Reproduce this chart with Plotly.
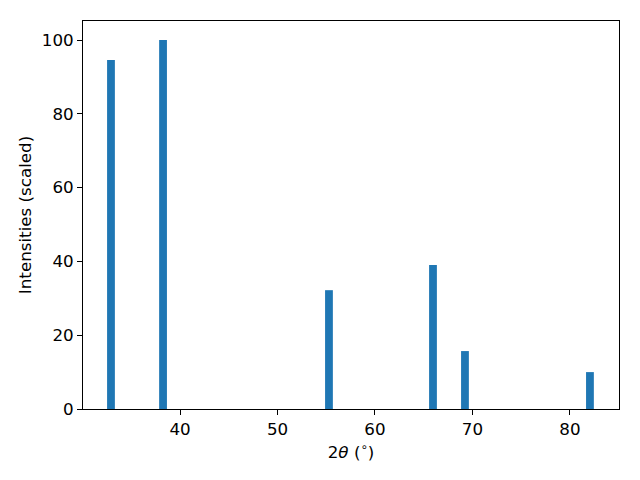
import plotly.graph_objects as go

two_theta = [32.92, 38.26, 55.28, 65.95, 69.23, 82.05]
intensities = [94.6, 100.0, 32.2, 39.0, 15.7, 10.0]
bar_width = 0.8

fig = go.Figure()
fig.add_trace(go.Bar(x=two_theta, y=intensities, width=bar_width,
                     marker=dict(color="#1f77b4", line=dict(width=0))))

font = dict(family="DejaVu Sans", size=16.7, color="black")
axis_common = dict(showline=True, linecolor="black", linewidth=1, mirror=True,
                   ticks="outside", ticklen=5, tickcolor="black", tickwidth=1,
                   showgrid=False, zeroline=False, tickfont=font)

fig.update_layout(
    width=640, height=480,
    margin=dict(l=75, r=29, t=13, b=79),
    paper_bgcolor="white", plot_bgcolor="white",
    showlegend=False,
    xaxis=dict(range=[30.05, 85.03], tickvals=[40, 50, 60, 70, 80],
               title=dict(text="2<i>θ</i> (<sup>∘</sup>)", standoff=8, font=font),
               **axis_common),
    yaxis=dict(range=[0, 105.15], tickvals=[0, 20, 40, 60, 80, 100],
               title=dict(text="Intensities (scaled)", standoff=5, font=font),
               **axis_common),
)

fig.write_html("out.html")
